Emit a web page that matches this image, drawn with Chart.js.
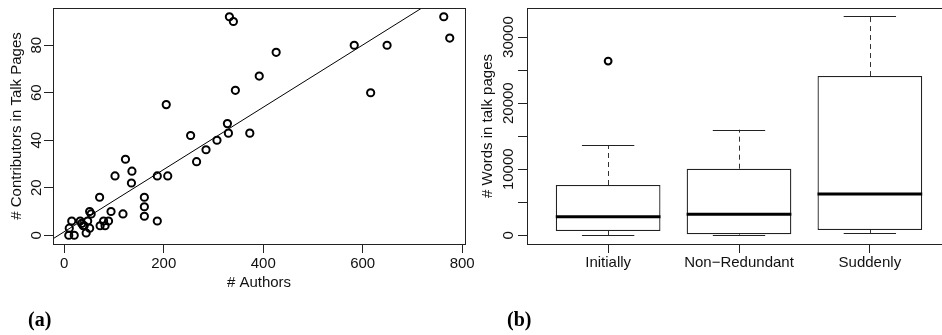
<!DOCTYPE html>
<html>
<head>
<meta charset="utf-8">
<script src="https://cdn.jsdelivr.net/npm/chart.js@4/dist/chart.umd.min.js"></script>
<style>
  body { margin: 0; background: #fff; overflow: hidden; width: 942px; height: 335px; position: relative; }
  canvas { position: absolute; top: 0; }
  #chartA { left: 0; }
  #chartB { left: 470px; }
  .tag { position: absolute; top: 308px; font: bold 20px "Liberation Serif", "Times New Roman", serif; color: #000; line-height: 22px; }
</style>
</head>
<body>
<canvas id="chartA" width="480" height="335"></canvas>
<canvas id="chartB" width="490" height="335"></canvas>
<div class="tag" style="left:28px">(a)</div>
<div class="tag" style="left:507px">(b)</div>
<script>
// (a) autores vs. contribuidores en páginas de discusión
const authors = [9, 20, 10, 15, 32, 38, 35, 40, 47, 44, 51, 54, 51, 71, 72, 79, 82, 89, 94, 102, 118, 123, 136, 135,
  161, 161, 161, 187, 187, 208, 266, 285, 307, 205, 254, 328, 330, 332, 340, 344, 373, 392, 426, 583, 616, 649, 763, 775];
const contributors = [0, 0, 3, 6, 6, 4, 5, 4, 6, 1, 10, 9, 3, 16, 4, 6, 4, 6, 10, 25, 9, 32, 27, 22,
  16, 12, 8, 25, 6, 25, 31, 36, 40, 55, 42, 47, 43, 92, 90, 61, 43, 67, 77, 80, 60, 80, 92, 83];
const fitIntercept = 1.5;
const fitSlope = 0.131;
const xTicksA = [0, 200, 400, 600, 800];
const yTicksA = [0, 20, 40, 60, 80];

// (b) palabras en páginas de discusión
const groups = ['Initially', 'Non\u2212Redundant', 'Suddenly'];
const whiskerLow = [0, 50, 350];
const q1 = [650, 150, 800];
const medians = [2810, 3180, 6250];
const q3 = [7610, 10080, 24100];
const whiskerHigh = [13620, 15980, 33130];
const outliers = [{ group: 0, value: 26370 }];
const yTicksB = [0, 5000, 10000, 15000, 20000, 25000, 30000];
const yLabelsB = [0, 10000, 20000, 30000];

const FONT = '15px "Liberation Sans", Arial, Helvetica, sans-serif';
const INK = '#111';

// Dibuja el marco, etiquetas y títulos al estilo R
const rStyle = {
  id: 'rStyle',
  afterDraw(chart, args, o) {
    const ctx = chart.ctx, a = chart.chartArea;
    const xs = chart.scales.x, ys = chart.scales.y;
    ctx.save();
    ctx.strokeStyle = '#222';
    ctx.lineWidth = 1;
    ctx.strokeRect(Math.round(a.left) + 0.5, Math.round(a.top) + 0.5,
      Math.round(a.right - a.left), Math.round(a.bottom - a.top));
    ctx.fillStyle = INK;
    ctx.font = FONT;
    ctx.textAlign = 'center';
    ctx.textBaseline = 'middle';
    o.xLabels.forEach(([v, t]) => ctx.fillText(t, xs.getPixelForValue(v), o.xLabelY));
    if (o.xTitle) ctx.fillText(o.xTitle, (a.left + a.right) / 2, o.xTitleY);
    o.yLabels.forEach(v => {
      ctx.save();
      ctx.translate(o.yLabelX, ys.getPixelForValue(v));
      ctx.rotate(-Math.PI / 2);
      ctx.fillText(String(v), 0, 0);
      ctx.restore();
    });
    ctx.save();
    ctx.translate(o.yTitleX, (a.top + a.bottom) / 2);
    ctx.rotate(-Math.PI / 2);
    ctx.fillText(o.yTitle, 0, 0);
    ctx.restore();
    ctx.restore();
  }
};

// Bigotes y medianas del diagrama de caja
const boxExtras = {
  id: 'boxExtras',
  afterDatasetsDraw(chart) {
    const ctx = chart.ctx, xs = chart.scales.x, ys = chart.scales.y;
    ctx.save();
    groups.forEach((g, i) => {
      const pos = i + 1;
      const xc = Math.round(xs.getPixelForValue(pos)) + 0.5;
      const capL = xs.getPixelForValue(pos - 0.2), capR = xs.getPixelForValue(pos + 0.2);
      const boxL = xs.getPixelForValue(pos - 0.4), boxR = xs.getPixelForValue(pos + 0.4);
      ctx.strokeStyle = '#333';
      ctx.lineWidth = 1;
      ctx.setLineDash([5, 4]);
      ctx.beginPath();
      ctx.moveTo(xc, ys.getPixelForValue(q3[i]));
      ctx.lineTo(xc, ys.getPixelForValue(whiskerHigh[i]));
      ctx.moveTo(xc, ys.getPixelForValue(q1[i]));
      ctx.lineTo(xc, ys.getPixelForValue(whiskerLow[i]));
      ctx.stroke();
      ctx.setLineDash([]);
      ctx.strokeStyle = '#222';
      ctx.beginPath();
      [whiskerHigh[i], whiskerLow[i]].forEach(v => {
        const y = Math.round(ys.getPixelForValue(v)) + 0.5;
        ctx.moveTo(capL, y);
        ctx.lineTo(capR, y);
      });
      ctx.stroke();
      ctx.strokeStyle = '#000';
      ctx.lineWidth = 3;
      ctx.beginPath();
      const ym = ys.getPixelForValue(medians[i]);
      ctx.moveTo(boxL, ym);
      ctx.lineTo(boxR, ym);
      ctx.stroke();
    });
    ctx.restore();
  }
};

function tickAxis(min, max, ticks, position, fit) {
  return {
    type: 'linear',
    position: position,
    min: min,
    max: max,
    offset: false,
    afterBuildTicks: s => { s.ticks = ticks.map(v => ({ value: v })); },
    afterFit: fit,
    ticks: { display: false },
    border: { display: false },
    grid: { offset: false, drawOnChartArea: false, drawTicks: true, tickLength: 9, color: '#222', lineWidth: 1 }
  };
}

// 1. Diagrama de dispersión con recta de ajuste
const xMinA = -22.7, xMaxA = 805.7;
new Chart(document.getElementById('chartA'), {
  type: 'scatter',
  data: {
    datasets: [{
      data: authors.map((x, i) => ({ x: x, y: contributors[i] })),
      pointRadius: 3.6,
      pointBorderWidth: 2,
      borderColor: '#000',
      backgroundColor: 'rgba(0,0,0,0)'
    }, {
      type: 'line',
      data: [xMinA, xMaxA].map(x => ({ x: x, y: fitIntercept + fitSlope * x })),
      borderColor: '#000',
      borderWidth: 1,
      pointRadius: 0,
      fill: false
    }]
  },
  options: {
    responsive: false,
    animation: false,
    layout: { padding: { top: 8, right: 15, left: 0, bottom: 0 } },
    plugins: {
      legend: { display: false },
      tooltip: { enabled: false },
      rStyle: {
        xLabels: xTicksA.map(v => [v, String(v)]),
        xLabelY: 264,
        xTitle: '# Authors',
        xTitleY: 283,
        yLabels: yTicksA,
        yLabelX: 37,
        yTitle: '# Contributors in Talk Pages',
        yTitleX: 17
      }
    },
    scales: {
      x: tickAxis(xMinA, xMaxA, xTicksA, 'bottom', s => { s.height = 91; }),
      y: tickAxis(-3.68, 95.68, yTicksA, 'left', s => { s.width = 53; })
    }
  },
  plugins: [rStyle]
});

// 2. Diagrama de caja
new Chart(document.getElementById('chartB'), {
  type: 'bar',
  data: {
    datasets: [{
      data: groups.map((g, i) => ({ x: i + 1, y: [q1[i], q3[i]] })),
      backgroundColor: '#fff',
      borderColor: '#222',
      borderWidth: 1.3,
      borderSkipped: false,
      barPercentage: 1,
      categoryPercentage: 0.8
    }, {
      type: 'scatter',
      data: outliers.map(o => ({ x: o.group + 1, y: o.value })),
      pointRadius: 3.4,
      pointBorderWidth: 2,
      borderColor: '#000',
      backgroundColor: 'rgba(0,0,0,0)'
    }]
  },
  options: {
    responsive: false,
    animation: false,
    layout: { padding: { top: 8, right: 9, left: 0, bottom: 0 } },
    plugins: {
      legend: { display: false },
      tooltip: { enabled: false },
      rStyle: {
        xLabels: groups.map((g, i) => [i + 1, g]),
        xLabelY: 263,
        xTitle: '',
        yLabels: yLabelsB,
        yLabelX: 38.5,
        yTitle: '# Words in talk pages',
        yTitleX: 17.5
      }
    },
    scales: {
      x: tickAxis(0.38, 3.62, [1, 2, 3], 'bottom', s => { s.height = 91; }),
      y: tickAxis(-1320, 34400, yTicksB, 'left', s => { s.width = 57; })
    }
  },
  plugins: [boxExtras, rStyle]
});
</script>
</body>
</html>
